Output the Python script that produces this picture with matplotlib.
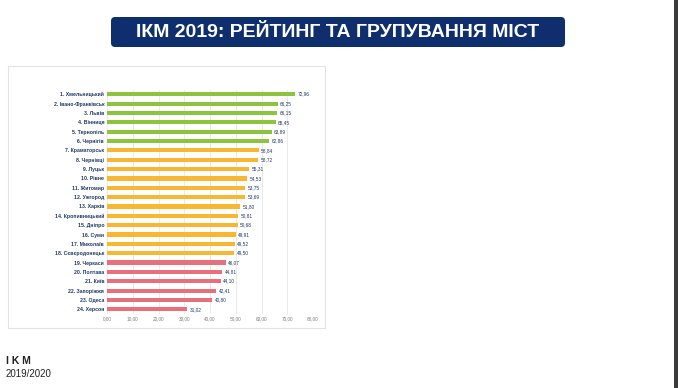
import matplotlib.pyplot as plt
from matplotlib.patches import FancyBboxPatch, Rectangle
import numpy as np

plt.rcParams['font.family'] = ['Liberation Sans', 'DejaVu Sans']

# ----------------------------
# Data
# ----------------------------
cities = ['Хмельницький', 'Івано-Франківськ', 'Львів', 'Вінниця', 'Тернопіль',
          'Чернігів', 'Краматорськ', 'Чернівці', 'Луцьк', 'Рівне', 'Житомир',
          'Ужгород', 'Харків', 'Кропивницький', 'Дніпро', 'Суми', 'Миколаїв',
          'Сєвєродонецьк', 'Черкаси', 'Полтава', 'Київ', 'Запоріжжя', 'Одеса',
          'Херсон']
scores = [72.96, 66.25, 66.15, 65.45, 63.89, 62.86, 58.84, 58.72, 55.31, 54.53,
          53.75, 53.69, 51.80, 50.81, 50.68, 49.91, 49.52, 49.50, 46.07, 44.81,
          44.10, 42.41, 40.80, 31.02]
groups = ['high'] * 6 + ['mid'] * 12 + ['low'] * 6
x_ticks = [0, 10, 20, 30, 40, 50, 60, 70, 80]

group_colors = {'high': '#8CC43F', 'mid': '#F7B733', 'low': '#E86F7C'}

W, H = 678, 388
fig = plt.figure(figsize=(W / 100, H / 100), dpi=100)
fig.patch.set_facecolor('white')

def fx(px):
    return px / W

def fy(py):
    return 1 - py / H

# ----------------------------
# Slide decorations
# ----------------------------
banner = FancyBboxPatch((fx(111), fy(47)), fx(565) - fx(111), fy(17) - fy(47),
                        boxstyle='round,pad=0,rounding_size=0.006',
                        transform=fig.transFigure, facecolor='#0E2E6E',
                        edgecolor='none', mutation_aspect=W / H)
fig.patches.append(banner)
fig.text(fx(338), fy(32.5), 'ІКМ 2019: РЕЙТИНГ ТА ГРУПУВАННЯ МІСТ',
         color='white', fontsize=14, fontweight='bold', ha='center', va='center')

chart_box = Rectangle((fx(8), fy(328)), fx(325) - fx(8), fy(66) - fy(328),
                      transform=fig.transFigure, facecolor='white',
                      edgecolor='#E3E3E3', linewidth=0.8, zorder=-5)
fig.patches.append(chart_box)

fig.patches.append(Rectangle((fx(674), 0), fx(4), 1, transform=fig.transFigure,
                             facecolor='#3A3A3A', edgecolor='none'))

fig.text(fx(6), fy(361), 'I K M', fontsize=7.5, fontweight='bold',
         color='#222222', ha='left', va='center')
fig.text(fx(6), fy(374), '2019/2020', fontsize=7, color='#222222',
         ha='left', va='center')

# ----------------------------
# Bar chart
# ----------------------------
ax = fig.add_axes([fx(107), fy(314), fx(313) - fx(107), fy(89.6) - fy(314)])
ax.set_zorder(5)
ax.patch.set_alpha(0)
y = np.arange(len(cities))
labels = [f'{i + 1}. {c}' for i, c in enumerate(cities)]
colors = [group_colors[g] for g in groups]

ax.barh(y, scores, height=0.45, color=colors, zorder=3)
for yi, v in zip(y, scores):
    ax.text(v + 1.0, yi, f'{v:.2f}'.replace('.', ','), va='center', ha='left',
            fontsize=3.4, color='#1F3864')

ax.set_ylim(len(cities) - 0.5, -0.5)
ax.set_xlim(0, 80)
ax.set_yticks(y)
ax.set_yticklabels(labels, fontsize=3.7, color='#1F3864', fontweight='bold')
ax.set_xticks(x_ticks)
ax.set_xticklabels([f'{t:.2f}'.replace('.', ',') for t in x_ticks],
                   fontsize=3.4, color='#7F7F7F')
ax.tick_params(length=0, pad=2)
ax.grid(axis='x', color='#E6E6E6', linewidth=0.6, zorder=0)
for s in ax.spines.values():
    s.set_visible(False)

fig.savefig('out.png', dpi=100)
